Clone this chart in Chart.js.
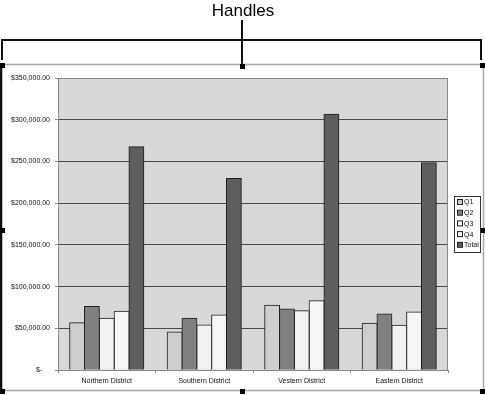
<!DOCTYPE html>
<html>
<head>
<meta charset="utf-8">
<script src="https://cdn.jsdelivr.net/npm/chart.js@4"></script>
<style>
  html, body { margin: 0; padding: 0; background: #fff; }
  #wrap { width: 485px; height: 395px; position: relative; }
</style>
</head>
<body>
<div id="wrap"><canvas id="chart" width="485" height="395"></canvas></div>
<script>
const districts = ['Northern District', 'Southern District', 'Vestern District', 'Eastern District']
const q1 = [56500, 45500, 77500, 56000]
const q2 = [76000, 62000, 73000, 67000]
const q3 = [62000, 54000, 71000, 53500]
const q4 = [70500, 66000, 83000, 69500]
const total = [267500, 229500, 306500, 248500]
const seriesNames = ['Q1', 'Q2', 'Q3', 'Q4', 'Total']
const seriesColors = ['#cecece', '#808080', '#f2f2f2', '#f6f6f6', '#5e5e5e']

const FONT = '"Liberation Sans", Arial, sans-serif'

const mkSet = (i, data) => ({
  label: seriesNames[i],
  data: data,
  backgroundColor: seriesColors[i],
  borderColor: '#1e1e1e',
  borderWidth: 1,
  inflateAmount: 0.5,
  categoryPercentage: 0.76,
  barPercentage: 1
})

// handles, bracket, frame, plot background and legend
const decor = {
  id: 'decor',
  beforeDraw(chart) {
    const c = chart.ctx
    const a = chart.chartArea
    c.save()
    c.fillStyle = '#fff'
    c.fillRect(0, 0, chart.width, chart.height)
    c.fillStyle = '#d8d8d8'
    c.fillRect(a.left, a.top, a.right - a.left, a.bottom - a.top)
    c.restore()
  },
  beforeDatasetsDraw(chart) {
    const c = chart.ctx
    const a = chart.chartArea
    c.save()
    c.strokeStyle = '#8a8a8a'
    c.lineWidth = 1
    c.strokeRect(a.left + 0.5, a.top + 0.5, a.right - a.left - 1, a.bottom - a.top)
    c.restore()
  },
  afterDraw(chart) {
    const c = chart.ctx
    c.save()
    // title + bracket
    c.fillStyle = '#000'
    c.font = '17px ' + FONT
    c.textAlign = 'center'
    c.textBaseline = 'middle'
    c.fillText('Handles', 243, 11)
    c.strokeStyle = '#111'
    c.lineWidth = 2
    c.beginPath()
    c.moveTo(2, 60); c.lineTo(2, 40); c.lineTo(481, 40); c.lineTo(481, 60)
    c.moveTo(242, 20); c.lineTo(242, 65)
    c.stroke()
    // chart frame
    c.strokeStyle = '#a5a5a5'
    c.lineWidth = 1.5
    c.strokeRect(2, 64.5, 481.5, 326)
    c.strokeStyle = '#111'
    c.lineWidth = 2
    c.beginPath(); c.moveTo(1, 64); c.lineTo(1, 393); c.stroke()
    // handles
    c.fillStyle = '#000'
    const hs = [[0, 63], [240, 64], [480, 63], [0, 228], [480, 228], [0, 389], [240, 389], [480, 389]]
    hs.forEach(h => c.fillRect(h[0], h[1], 5, 5))
    // legend
    const lx = 454, ly = 196
    c.fillStyle = '#fff'
    c.fillRect(lx, ly, 26, 56)
    c.strokeStyle = '#333'
    c.lineWidth = 1
    c.strokeRect(lx + 0.5, ly + 0.5, 26, 56)
    c.font = '7px ' + FONT
    c.textAlign = 'left'
    c.textBaseline = 'middle'
    chart.data.datasets.forEach((ds, i) => {
      const y = 202 + i * 10.7
      c.fillStyle = ds.backgroundColor
      c.fillRect(457.5, y - 2.5, 5, 5)
      c.strokeStyle = '#222'
      c.strokeRect(457.5, y - 2.5, 5, 5)
      c.fillStyle = '#111'
      c.fillText(ds.label, 464, y + 0.5)
    })
    c.restore()
  }
}

new Chart(document.getElementById('chart'), {
  type: 'bar',
  data: {
    labels: districts,
    datasets: [mkSet(0, q1), mkSet(1, q2), mkSet(2, q3), mkSet(3, q4), mkSet(4, total)]
  },
  options: {
    responsive: false,
    animation: false,
    layout: { padding: { top: 78, right: 37, left: 0, bottom: 0 } },
    plugins: { legend: { display: false }, tooltip: { enabled: false } },
    scales: {
      x: {
        grid: { display: true, drawOnChartArea: false, tickLength: 3, color: '#8a8a8a', offset: true },
        border: { color: '#8a8a8a' },
        ticks: { font: { family: FONT, size: 7 }, color: '#111', padding: 4, maxRotation: 0 },
        afterFit: s => { s.height = 25 }
      },
      y: {
        min: 0,
        max: 350000,
        ticks: {
          stepSize: 50000,
          font: { family: FONT, size: 7 },
          color: '#111',
          padding: 5,
          callback: v => v === 0 ? '$-    ' : '$' + v.toLocaleString('en-US', { minimumFractionDigits: 2 })
        },
        grid: { color: '#4a4a4a', tickLength: 3, tickColor: '#8a8a8a' },
        border: { color: '#8a8a8a' },
        afterFit: s => { s.width = 58 }
      }
    }
  },
  plugins: [decor]
})
</script>
</body>
</html>
